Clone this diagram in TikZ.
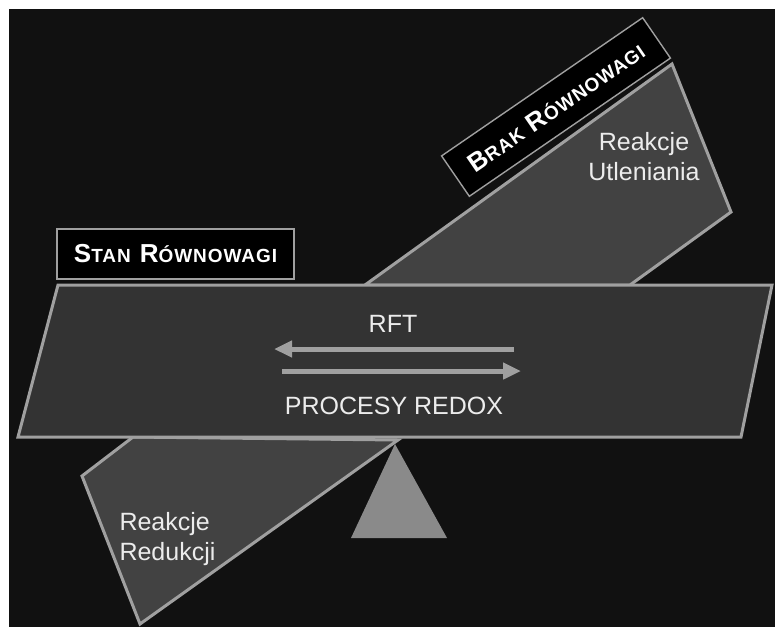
\documentclass[tikz,border=0pt]{standalone}
\usepackage{fontspec}
\setmainfont{Liberation Sans}
\usepackage{tikz}
\usetikzlibrary{arrows.meta,positioning}
\definecolor{scblack}{RGB}{17,17,17}
\definecolor{scbeam}{RGB}{51,51,51}
\definecolor{scplate}{RGB}{66,66,66}
\definecolor{scedge}{RGB}{160,160,160}
\definecolor{scfoot}{RGB}{138,138,138}
\definecolor{sctext}{RGB}{236,236,236}
\tikzstyle{plate} = [line width=3pt,draw=scedge,line join=miter]
\tikzstyle{plainlabel} = [text=sctext,font=\fontsize{25}{30}\selectfont,align=center]
\tikzstyle{tagbox} = [draw=scedge,line width=1.4pt,fill=black,text=white,font=\bfseries\addfontfeature{LetterSpace=5},inner sep=0pt]
\tikzstyle{arrow} = [line width=5pt,draw=scedge,-{Triangle[length=18pt,width=16pt]}]
\newcommand{\fakesc}[2]{{\fontsize{26}{30}\selectfont #1}{\fontsize{19}{30}\selectfont #2}}

\begin{document}
\begin{tikzpicture}[x=1pt,y=-1pt]
% Frame
\useasboundingbox (0,0) rectangle (775,627);
\fill[white] (0,0) rectangle (775,627);
\fill[scblack] (9,9) rectangle (775,627);

% Tilted plate
\draw[plate,fill=scplate] (365,285) -- (672,64) -- (731,212) -- (630,285) -- cycle;
\draw[plate,fill=scplate] (133,437) -- (82,476) -- (140,624) -- (398,440) -- cycle;

% Fulcrum
\fill[scfoot] (395,444) -- (447,538) -- (351,538) -- cycle;

% Level beam
\draw[plate,fill=scbeam] (58,285) -- (772,285) -- (741,437) -- (18,437) -- cycle;

% Tags
\node[tagbox,minimum width=237pt,minimum height=50pt] (stan) at (175.5,254)
  {\fakesc{S}{TAN}\hspace{9pt}\fakesc{R}{ÓWNOWAGI}};
\node[tagbox,rotate=34.5,minimum width=244pt,minimum height=49pt] (brak) at (556,107)
  {\fakesc{B}{RAK}\hspace{9pt}\fakesc{R}{ÓWNOWAGI}};

% Labels
\node[plainlabel] (utl) at (644,157) {Reakcje\\Utleniania};
\node[plainlabel,align=left,anchor=west] (red) at (116,539) {Reakcje\\Redukcji};
\node[plainlabel] (rft) at (393,324) {RFT};
\node[plainlabel] (redox) at (394,406) {PROCESY REDOX};

% Arrows
\coordinate (lstart) at (514,349);
\coordinate (lend) at (274,349);
\coordinate (rstart) at (282,371);
\coordinate (rend) at (521,371);
\draw[arrow] (lstart) -- (lend);
\draw[arrow] (rstart) -- (rend);
\end{tikzpicture}
\end{document}
